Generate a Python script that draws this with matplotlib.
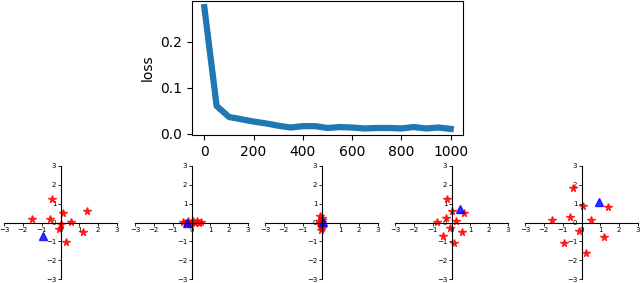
import matplotlib
matplotlib.use('Agg')
from matplotlib import pyplot as plt

# loss curve
steps = list(range(0, 1001, 50))
loss = [0.275, 0.060, 0.036, 0.031, 0.026, 0.022, 0.017, 0.013, 0.016, 0.016,
        0.012, 0.014, 0.013, 0.011, 0.012, 0.012, 0.011, 0.014, 0.011, 0.013, 0.010]

# red stars (data points) per snapshot
stars_x = [
    [-1.5, -0.44, -0.57, 0.14, 0.55, 1.42, 1.2, 0.27, -0.07, 0.0],
    [-0.45, -0.3, -0.2, -0.1, 0.0, 0.1, 0.2, 0.3, 0.4, 0.5],
    [-0.08, -0.05, -0.1, 0.02, -0.03, 0.05, -0.06, 0.0, 0.03, -0.02],
    [-0.22, 0.01, -0.29, -0.75, 0.24, 0.66, -0.06, 0.56, -0.43, 0.12],
    [-0.44, 0.07, -0.6, -1.57, 0.51, 1.41, -0.14, 1.2, -0.92, 0.25],
]
stars_y = [
    [0.16, 1.24, 0.19, 0.53, 0.05, 0.6, -0.53, -1.06, -0.32, -0.1],
    [0.05, -0.05, 0.1, -0.08, 0.02, 0.08, -0.04, 0.06, -0.02, 0.03],
    [0.35, -0.4, 0.1, 0.25, -0.2, 0.05, -0.1, 0.15, -0.3, 0.0],
    [1.23, 0.61, 0.26, 0.04, 0.08, 0.52, -0.31, -0.5, -0.7, -1.1],
    [1.84, 0.87, 0.29, 0.11, 0.13, 0.82, -0.47, -0.79, -1.1, -1.63],
]
# blue triangle per snapshot
tri_x = [-0.92, -0.26, 0.1, 0.45, 0.93]
tri_y = [-0.73, -0.05, 0.05, 0.7, 1.1]

fig = plt.figure(figsize=(6.4, 2.83), dpi=100)

ax = fig.add_axes([192/640, 1 - 135/283, 271/640, 134/283])
ax.plot(steps, loss, linewidth=4.5, color='#1f77b4')
ax.set_ylabel('loss')
ax.set_yticks([0.0, 0.1, 0.2])

lefts = [4, 135, 265, 395, 525]
for i in range(5):
    a = fig.add_axes([lefts[i]/640, 4/283, 113/640, 113/283])
    a.plot(stars_x[i], stars_y[i], '*', color='red', markersize=5.5, alpha=0.8)
    a.plot([tri_x[i]], [tri_y[i]], '^', color='blue', markersize=6, alpha=0.8)
    a.set_xlim(-3, 3)
    a.set_ylim(-3, 3)
    a.set_xticks([-3, -2, -1, 0, 1, 2, 3])
    a.set_yticks([-3, -2, -1, 0, 1, 2, 3])
    a.spines['left'].set_position('zero')
    a.spines['bottom'].set_position('zero')
    a.spines['right'].set_visible(False)
    a.spines['top'].set_visible(False)
    a.tick_params(labelsize=5, length=2, width=0.6, pad=1)
    for s in ['left', 'bottom']:
        a.spines[s].set_linewidth(0.8)

fig.savefig('out.png', dpi=100)
